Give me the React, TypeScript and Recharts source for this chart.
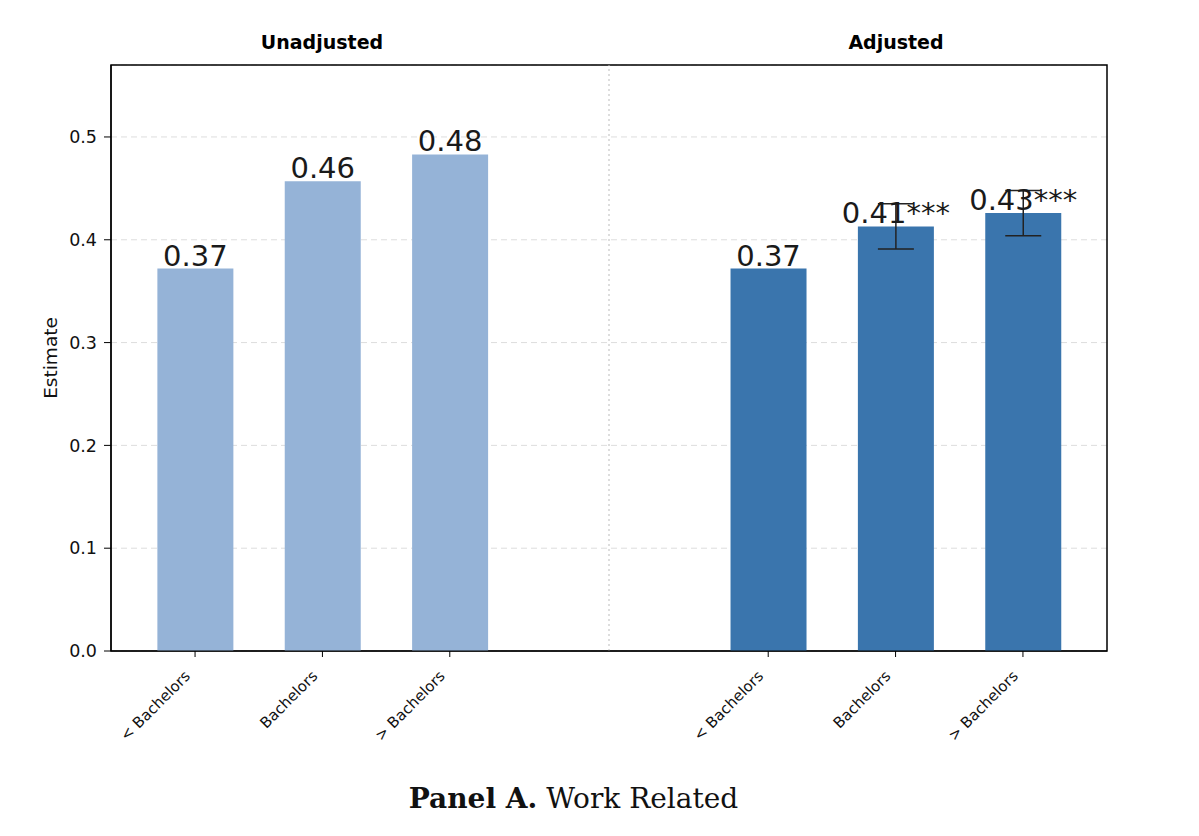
import React from 'react';
import {
    BarChart, Bar, Cell, XAxis, YAxis, CartesianGrid, ErrorBar, LabelList,
    ReferenceLine, ReferenceArea
} from 'recharts';

const categories = ['< Bachelors', 'Bachelors', '> Bachelors', '< Bachelors', 'Bachelors', '> Bachelors'];
const positions = [0, 1, 2, 4.5, 5.5, 6.5];
const groups = ['Unadjusted', 'Unadjusted', 'Unadjusted', 'Adjusted', 'Adjusted', 'Adjusted'];
const estimates = [0.372, 0.457, 0.483, 0.372, 0.413, 0.426];
const errors = [0, 0, 0, 0, 0.022, 0.022];
const stars = ['', '', '', '', '***', '***'];
const yTicks = [0, 0.1, 0.2, 0.3, 0.4, 0.5];

const colors: Record<string, string> = {
    Unadjusted: '#95b3d7',
    Adjusted: '#3a75ad'
};

const data = positions.map((pos, i) => ({
    pos,
    value: estimates[i],
    err: errors[i] || undefined,
    group: groups[i],
    label: estimates[i].toFixed(2) + stars[i]
}));

const font = '"DejaVu Sans", sans-serif';

const XTick = (props: any) => {
    const { x, y, payload } = props;
    const idx = positions.indexOf(payload.value);
    const text = idx >= 0 ? categories[idx] : '';
    return (
        <g transform={`translate(${x - 4},${y + 18})`}>
            <text
                transform="rotate(-45)"
                textAnchor="end"
                fontSize={15}
                fontFamily={font}
                fill="#111">
                {text}
            </text>
        </g>
    );
};

const titleStyle: React.CSSProperties = {
    position: 'absolute',
    width: 240,
    top: 31,
    textAlign: 'center',
    fontFamily: font,
    fontWeight: 'bold',
    fontSize: 19,
    color: '#000'
};

const App = () => {
    return (
        <div style={{ position: 'absolute', left: 0, top: 0, width: 1199, height: 836, background: '#fff' }}>
            <div style={{ ...titleStyle, left: 202 }}>Unadjusted</div>
            <div style={{ ...titleStyle, left: 776 }}>Adjusted</div>
            <BarChart
                width={1199}
                height={836}
                data={data}
                margin={{ top: 65, right: 92, bottom: 85, left: 41 }}>
                <CartesianGrid vertical={false} stroke="#dddddd" strokeDasharray="6 4" />
                <XAxis
                    type="number"
                    dataKey="pos"
                    domain={[-0.66, 7.16]}
                    ticks={positions}
                    allowDataOverflow
                    height={100}
                    tick={<XTick />}
                    tickLine={{ stroke: '#000' }}
                    tickSize={6}
                    axisLine={{ stroke: '#000', strokeWidth: 1.2 }} />
                <YAxis
                    type="number"
                    domain={[0, 0.57]}
                    ticks={yTicks}
                    allowDataOverflow
                    width={70}
                    tickFormatter={(v: number) => v.toFixed(1)}
                    tick={{ fontSize: 17.5, fontFamily: font, fill: '#111' }}
                    tickLine={{ stroke: '#000' }}
                    tickSize={7}
                    tickMargin={7}
                    axisLine={{ stroke: '#000', strokeWidth: 1.2 }}
                    label={{ value: 'Estimate', angle: -90, position: 'insideLeft', offset: 9, style: { fontSize: 18.5, fontFamily: font, fill: '#111', textAnchor: 'middle' } }} />
                <ReferenceLine x={3.25} stroke="#bbbbbb" strokeDasharray="2 3" />
                <Bar dataKey="value" barSize={76} isAnimationActive={false}>
                    {data.map(d => (
                        <Cell key={d.pos} fill={colors[d.group]} />
                    ))}
                    <ErrorBar dataKey="err" width={18} stroke="#222" strokeWidth={1.5} direction="y" />
                    <LabelList dataKey="label" position="top" offset={3} style={{ fontSize: 29, fontFamily: font, fill: '#1a1a1a' }} />
                </Bar>
                <ReferenceArea x1={-0.66} x2={7.16} y1={0} y2={0.57} fill="none" stroke="#000" strokeWidth={1.5} ifOverflow="visible" />
            </BarChart>
            <div style={{ position: 'absolute', left: 0, width: 1147, top: 782, textAlign: 'center', fontFamily: '"DejaVu Serif", serif', fontSize: 28, color: '#111' }}>
                <b>Panel A.</b> Work Related
            </div>
        </div>
    );
};

export default App;
